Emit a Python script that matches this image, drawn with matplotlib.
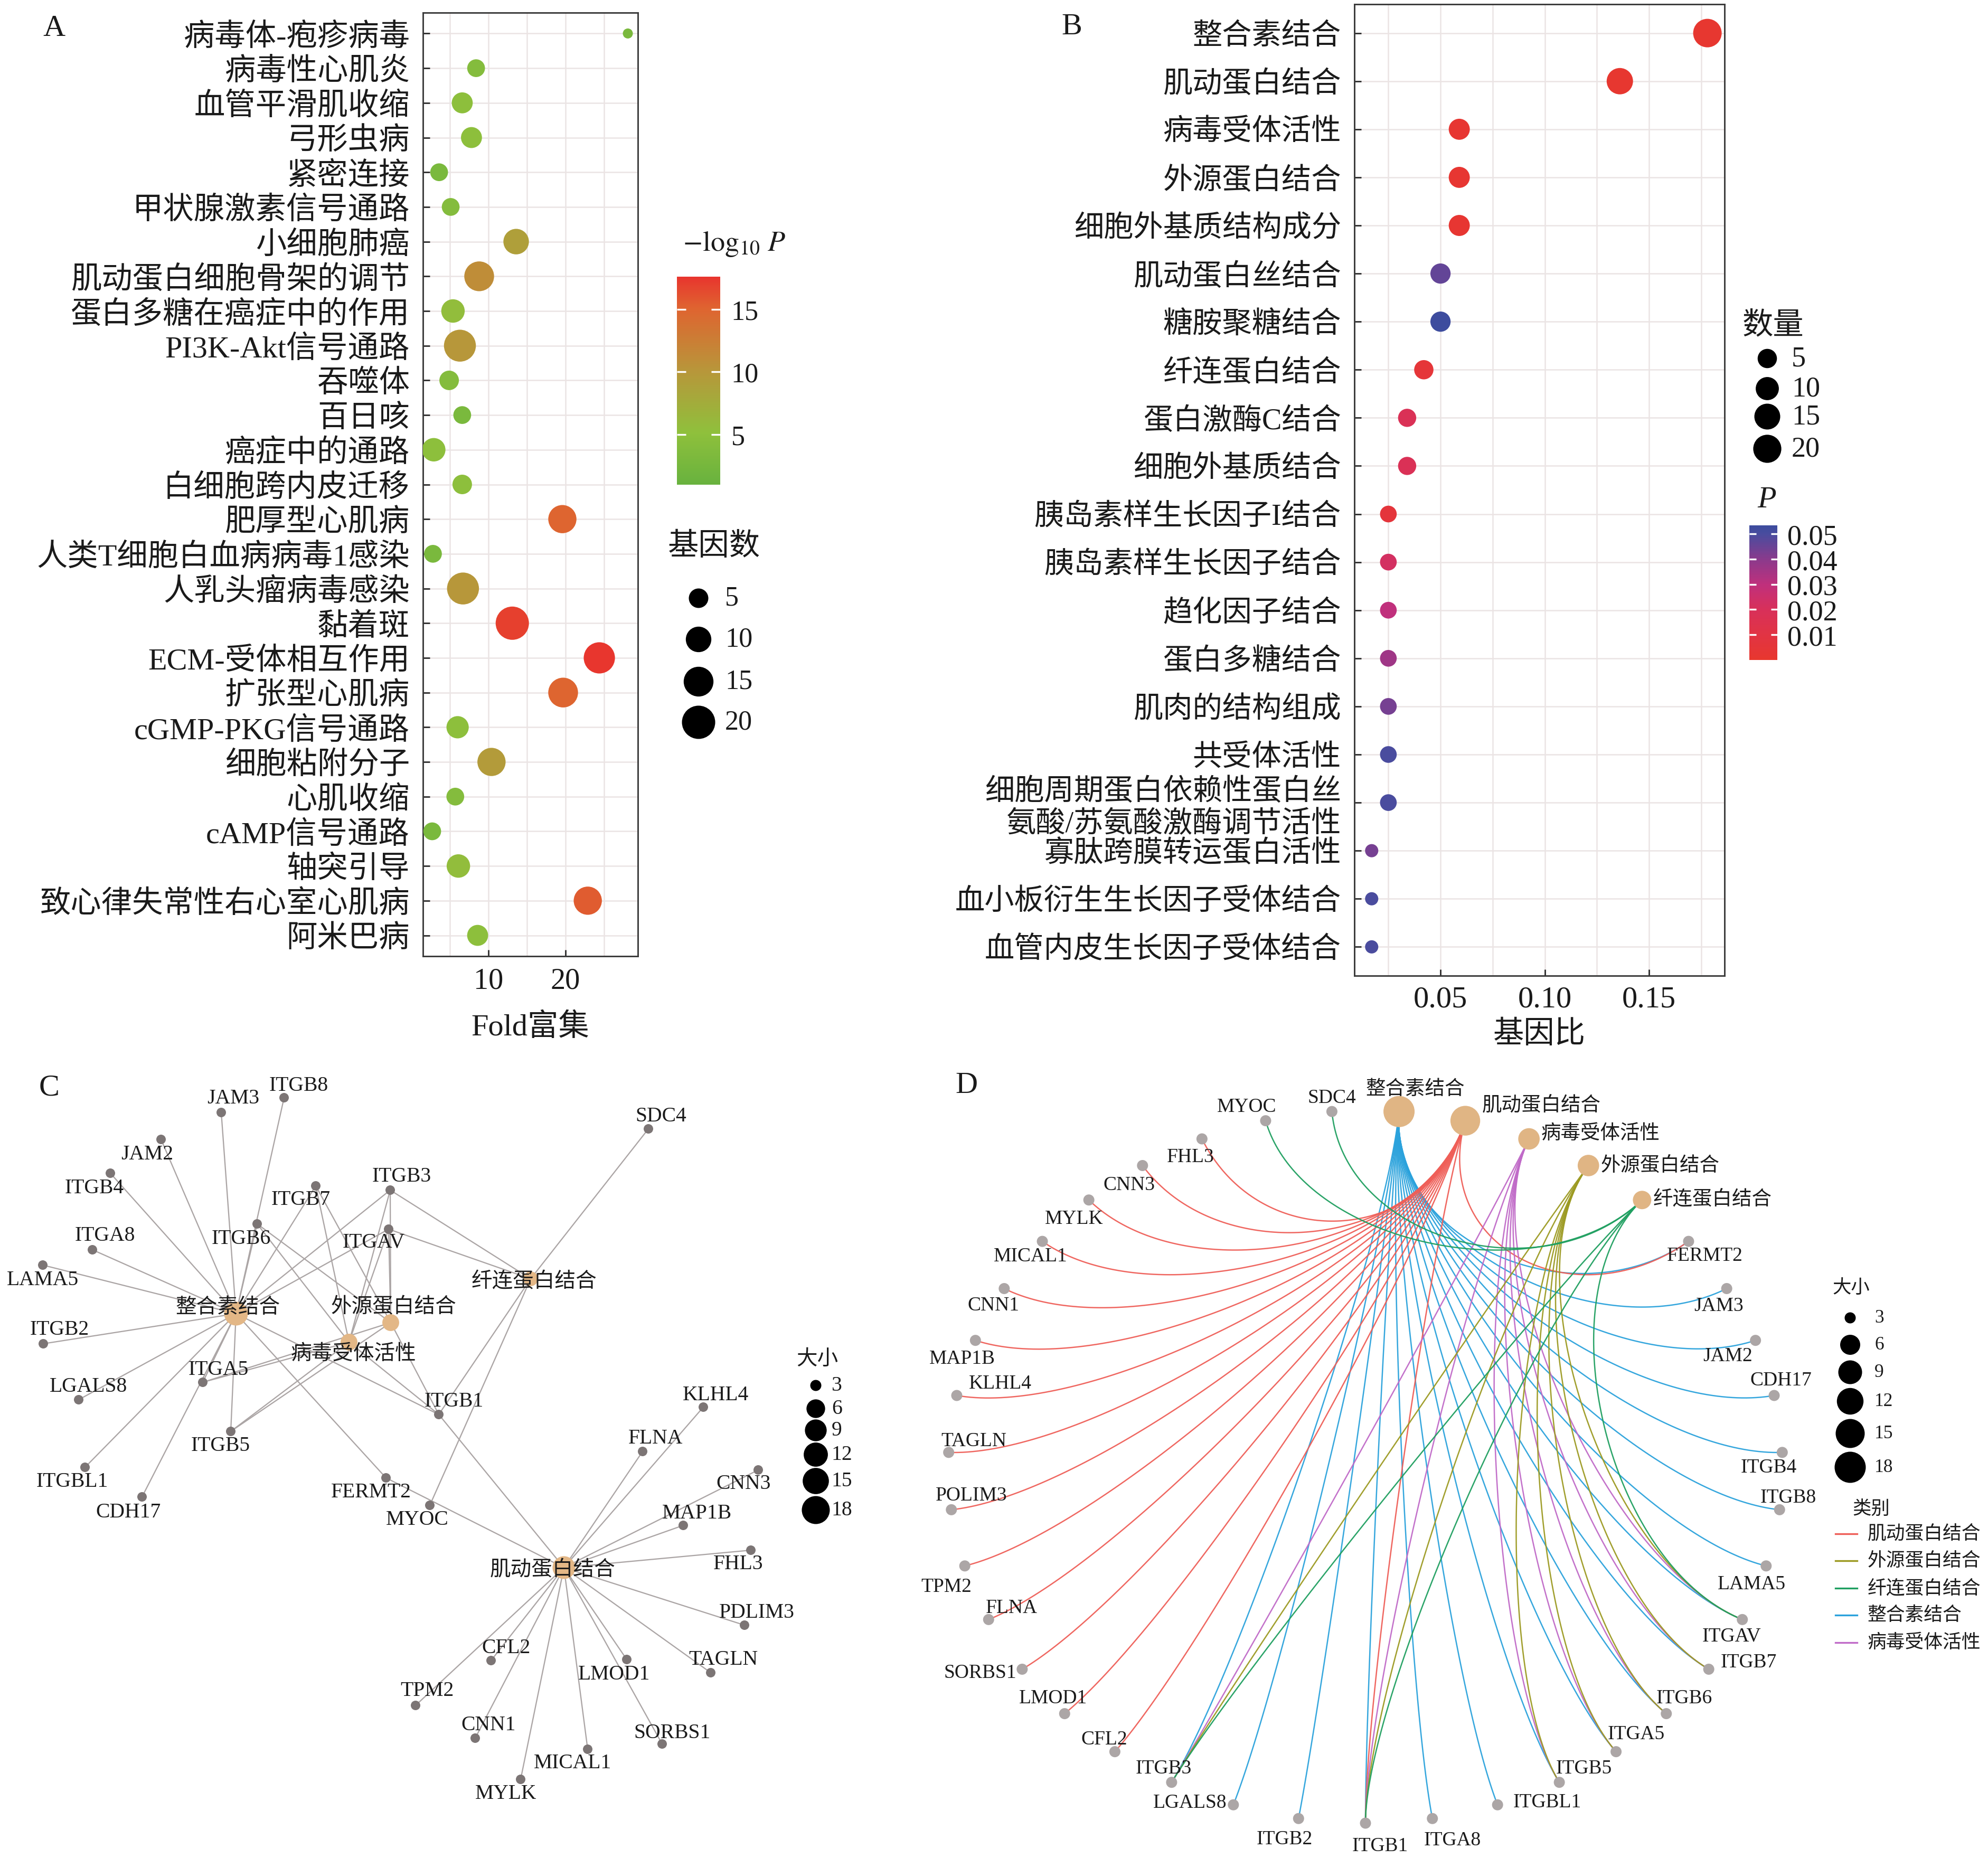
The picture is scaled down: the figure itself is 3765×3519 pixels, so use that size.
import matplotlib
matplotlib.use('Agg')
import matplotlib.pyplot as plt
import numpy as np
from matplotlib.colors import LinearSegmentedColormap, Normalize

plt.rcParams['font.family'] = ['Liberation Serif', 'Noto Sans CJK SC']
plt.rcParams['mathtext.fontset'] = 'stix'

W, H = 3765, 3520
DPI = 300
PT = DPI / 72.0   # pixels per point
INK = '#1a1a1a'

# ---------------- A: KEGG ----------------
kegg_terms = ['病毒体-疱疹病毒', '病毒性心肌炎', '血管平滑肌收缩', '弓形虫病', '紧密连接',
              '甲状腺激素信号通路', '小细胞肺癌', '肌动蛋白细胞骨架的调节', '蛋白多糖在癌症中的作用',
              'PI3K-Akt信号通路', '吞噬体', '百日咳', '癌症中的通路', '白细胞跨内皮迁移',
              '肥厚型心肌病', '人类T细胞白血病病毒1感染', '人乳头瘤病毒感染', '黏着斑',
              'ECM-受体相互作用', '扩张型心肌病', 'cGMP-PKG信号通路', '细胞粘附分子', '心肌收缩',
              'cAMP信号通路', '轴突引导', '致心律失常性右心室心肌病', '阿米巴病']
kegg_fold = [28.1, 8.4, 6.6, 7.8, 3.6, 5.1, 13.6, 8.8, 5.4, 6.3, 4.9, 6.6, 2.9, 6.6,
             19.6, 2.8, 6.7, 13.1, 24.4, 19.7, 6.0, 10.4, 5.7, 2.7, 6.1, 22.9, 8.6]
kegg_count = [2, 4, 6, 6, 4, 4, 10, 15, 8, 18, 5, 4, 8, 5,
              13, 4, 18, 20, 17, 15, 7, 13, 4, 4, 8, 13, 6]
kegg_logp = [3, 4, 5, 5, 3, 4, 9, 11, 5.5, 10, 4, 3, 5, 5,
             15, 3, 10, 17, 17.5, 15, 5, 9.5, 4, 3, 5.5, 15.5, 5]

# ---------------- B: GO ----------------
go_terms = ['整合素结合', '肌动蛋白结合', '病毒受体活性', '外源蛋白结合', '细胞外基质结构成分',
            '肌动蛋白丝结合', '糖胺聚糖结合', '纤连蛋白结合', '蛋白激酶C结合', '细胞外基质结合',
            '胰岛素样生长因子I结合', '胰岛素样生长因子结合', '趋化因子结合', '蛋白多糖结合',
            '肌肉的结构组成', '共受体活性', '细胞周期蛋白依赖性蛋白丝\n氨酸/苏氨酸激酶调节活性',
            '寡肽跨膜转运蛋白活性', '血小板衍生生长因子受体结合', '血管内皮生长因子受体结合']
go_ratio = [0.178, 0.136, 0.059, 0.059, 0.059, 0.050, 0.050, 0.042, 0.034, 0.034,
            0.025, 0.025, 0.025, 0.025, 0.025, 0.025, 0.025, 0.017, 0.017, 0.017]
go_count = [21, 16, 7, 7, 7, 6, 6, 5, 4, 4, 3, 3, 3, 3, 3, 3, 3, 2, 2, 2]
go_p = [0.001, 0.001, 0.002, 0.002, 0.002, 0.046, 0.053, 0.005, 0.018, 0.018,
        0.006, 0.022, 0.030, 0.036, 0.043, 0.050, 0.050, 0.043, 0.050, 0.050]

# ---------------- C/D: gene-concept network ----------------
hub_terms = ['整合素结合', '肌动蛋白结合', '病毒受体活性', '外源蛋白结合', '纤连蛋白结合']
hub_genes = {
    '整合素结合': ['FERMT2', 'JAM3', 'JAM2', 'CDH17', 'ITGB4', 'ITGB8', 'LAMA5', 'ITGAV', 'ITGB7',
                  'ITGB6', 'ITGA5', 'ITGB5', 'ITGBL1', 'ITGA8', 'ITGB1', 'ITGB2', 'LGALS8', 'ITGB3'],
    '肌动蛋白结合': ['FHL3', 'CNN3', 'MYLK', 'MICAL1', 'CNN1', 'MAP1B', 'KLHL4', 'TAGLN', 'PDLIM3',
                    'TPM2', 'FLNA', 'SORBS1', 'LMOD1', 'CFL2', 'FERMT2', 'ITGB1'],
    '病毒受体活性': ['ITGAV', 'ITGB7', 'ITGB6', 'ITGA5', 'ITGB5', 'ITGB1', 'ITGB3'],
    '外源蛋白结合': ['ITGAV', 'ITGB7', 'ITGB6', 'ITGA5', 'ITGB5', 'ITGB1', 'ITGB3'],
    '纤连蛋白结合': ['MYOC', 'SDC4', 'ITGAV', 'ITGB3', 'ITGB1'],
}
legend_order = ['肌动蛋白结合', '外源蛋白结合', '纤连蛋白结合', '整合素结合', '病毒受体活性']
cat_colors = {'肌动蛋白结合': '#ef5f58', '外源蛋白结合': '#9c9a22', '纤连蛋白结合': '#1f9f60',
              '整合素结合': '#2ba2dc', '病毒受体活性': '#c06ac8'}
d_names = {'PDLIM3': 'POLIM3'}

# layout of panel C (pixel positions as in the force layout)
c_pos = {
    '整合素结合': (447, 2489), '外源蛋白结合': (740, 2506), '病毒受体活性': (661, 2543),
    '纤连蛋白结合': (1005, 2423), '肌动蛋白结合': (1068, 2970),
    'JAM3': (419, 2108), 'ITGB8': (538, 2080), 'JAM2': (305, 2159), 'ITGB4': (209, 2223),
    'ITGB7': (598, 2247), 'ITGB3': (739, 2255), 'ITGB6': (487, 2319), 'ITGAV': (736, 2329),
    'ITGA8': (175, 2368), 'LAMA5': (81, 2397), 'ITGB2': (82, 2546), 'ITGA5': (384, 2619),
    'LGALS8': (149, 2652), 'ITGB5': (437, 2712), 'ITGB1': (831, 2680), 'ITGBL1': (161, 2780),
    'CDH17': (269, 2836), 'FERMT2': (731, 2800), 'MYOC': (814, 2852), 'SDC4': (1228, 2139),
    'KLHL4': (1332, 2666), 'FLNA': (1217, 2750), 'CNN3': (1436, 2785), 'MAP1B': (1294, 2890),
    'FHL3': (1422, 2937), 'PDLIM3': (1410, 3079), 'TAGLN': (1346, 3169), 'LMOD1': (1187, 3144),
    'SORBS1': (1254, 3304), 'MICAL1': (1113, 3314), 'MYLK': (986, 3371), 'CNN1': (900, 3293),
    'TPM2': (787, 3231), 'CFL2': (930, 3146),
}
c_label_off = {
    'JAM3': (23, -27), 'ITGB8': (28, -24), 'JAM2': (-26, 28), 'ITGB4': (-30, 27), 'ITGB7': (-28, 25),
    'ITGB3': (22, -27), 'ITGB6': (-30, 27), 'ITGAV': (-28, 25), 'ITGA8': (24, -27), 'LAMA5': (0, 28),
    'ITGB2': (31, -27), 'ITGA5': (30, -25), 'LGALS8': (19, -26), 'ITGB5': (-19, 27), 'ITGB1': (29, -25),
    'ITGBL1': (-24, 26), 'CDH17': (-26, 28), 'FERMT2': (-28, 26), 'MYOC': (-24, 27), 'SDC4': (24, -25),
    'KLHL4': (24, -24), 'FLNA': (25, -25), 'CNN3': (-28, 25), 'MAP1B': (26, -23), 'FHL3': (-24, 25),
    'PDLIM3': (23, -24), 'TAGLN': (24, -25), 'LMOD1': (-24, 28), 'SORBS1': (19, -21), 'MICAL1': (-28, 26),
    'MYLK': (-28, 27), 'CNN1': (25, -25), 'TPM2': (22, -28), 'CFL2': (29, -24),
    '整合素结合': (-15, -12), '外源蛋白结合': (5, -29), '病毒受体活性': (9, 22),
    '纤连蛋白结合': (7, 6), '肌动蛋白结合': (-21, 5),
}
# circular order of panel D
d_order = ['整合素结合', '肌动蛋白结合', '病毒受体活性', '外源蛋白结合', '纤连蛋白结合',
           'FERMT2', 'JAM3', 'JAM2', 'CDH17', 'ITGB4', 'ITGB8', 'LAMA5', 'ITGAV', 'ITGB7',
           'ITGB6', 'ITGA5', 'ITGB5', 'ITGBL1', 'ITGA8', 'ITGB1', 'ITGB2', 'LGALS8', 'ITGB3',
           'CFL2', 'LMOD1', 'SORBS1', 'FLNA', 'TPM2', 'PDLIM3', 'TAGLN', 'KLHL4', 'MAP1B',
           'CNN1', 'MICAL1', 'MYLK', 'CNN3', 'FHL3', 'MYOC', 'SDC4']
d_label_off = {
    'MYOC': (-36, -27), 'SDC4': (0, -26), 'FHL3': (-22, 34), 'CNN3': (-25, 36), 'MYLK': (-28, 35),
    'MICAL1': (-22, 28), 'CNN1': (-20, 31), 'MAP1B': (-25, 34), 'KLHL4': (82, -23), 'TAGLN': (48, -22),
    'PDLIM3': (38, -28), 'TPM2': (-35, 39), 'FLNA': (44, -23), 'SORBS1': (-80, 6), 'LMOD1': (-22, -30),
    'CFL2': (-20, -24), 'ITGB3': (-15, -27), 'LGALS8': (-82, -5), 'ITGB2': (-27, 38), 'ITGB1': (28, 43),
    'ITGA8': (38, 40), 'ITGBL1': (94, -6), 'ITGB5': (47, -27), 'ITGA5': (38, -34), 'ITGB6': (34, -30),
    'ITGB7': (76, -14), 'ITGAV': (-20, 31), 'LAMA5': (-27, 34), 'ITGB8': (16, -24), 'ITGB4': (-26, 28),
    'CDH17': (13, -29), 'JAM2': (-53, 29), 'JAM3': (-15, 32), 'FERMT2': (31, 27),
}
d_hub_label_dy = {'肌动蛋白结合': -30, '病毒受体活性': -10, '外源蛋白结合': 0, '纤连蛋白结合': -2}
size_breaks = [3, 6, 9, 12, 15, 18]


def px_rect(x0, y0, x1, y1):
    return [x0 / W, 1 - y1 / H, (x1 - x0) / W, (y1 - y0) / H]


def pixel_axes(fig, x0, y0, x1, y1):
    ax = fig.add_axes(px_rect(x0, y0, x1, y1))
    ax.set_xlim(x0, x1)
    ax.set_ylim(y1, y0)
    ax.axis('off')
    return ax


def s_of(d_px):
    return (np.asarray(d_px, dtype=float) / PT) ** 2


def size_a(v):
    return 19 + 44 * np.sqrt((np.asarray(v, float) - 2) / 18.0)


def size_b(v):
    return 25 + 29 * np.sqrt((np.asarray(v, float) - 2) / 19.0)


def size_c(v):
    return 21 + 32 * np.sqrt((np.asarray(v, float) - 3) / 15.0)


def size_d(v):
    return 21 + 38 * np.sqrt((np.asarray(v, float) - 3) / 15.0)


def style_dot_axes(ax):
    ax.set_facecolor('white')
    ax.grid(True, which='major', color='#ebe4e4', lw=0.6, zorder=0)
    ax.grid(True, which='minor', axis='x', color='#ebe4e4', lw=0.6, zorder=0)
    ax.set_axisbelow(True)
    for sp in ax.spines.values():
        sp.set_color('#3a3a3a')
        sp.set_linewidth(0.7)
    ax.tick_params(which='major', direction='in', length=3, width=0.7, color='#333333',
                   labelcolor=INK)
    ax.tick_params(which='minor', length=0)
    ax.tick_params(axis='y', pad=6)


fig = plt.figure(figsize=(W / DPI, H / DPI), dpi=DPI)

# ---------------- panel A ----------------
cmap_a = LinearSegmentedColormap.from_list(
    'kegg', [(0, '#68b23e'), (0.25, '#8fc03c'), (0.55, '#b8963a'), (0.85, '#df6430'), (1, '#e8352e')])
norm_a = Normalize(1.0, 17.6)
ax_a = fig.add_axes(px_rect(801, 25, 1208, 1812))
ya = np.arange(len(kegg_terms))
sc_a = ax_a.scatter(kegg_fold, ya, s=s_of(size_a(kegg_count)), c=kegg_logp, cmap=cmap_a,
                    norm=norm_a, edgecolors='none', zorder=3)
ax_a.set_xlim(1.5, 29.4)
ax_a.set_ylim(len(kegg_terms) - 0.4, -0.6)
ax_a.set_yticks(ya)
ax_a.set_yticklabels(kegg_terms, fontsize=14)
ax_a.set_xticks([10, 20])
ax_a.set_xticks([5, 15, 25], minor=True)
ax_a.tick_params(axis='x', labelsize=13.5, pad=5)
style_dot_axes(ax_a)
ax_a.set_xlabel('Fold富集', fontsize=14, labelpad=8, color=INK)

cax_a = fig.add_axes(px_rect(1282, 525, 1364, 919))
cb_a = fig.colorbar(sc_a, cax=cax_a, ticks=[5, 10, 15])
cb_a.outline.set_visible(False)
cb_a.ax.tick_params(direction='in', length=4, width=0.8, color='white', left=True, right=True,
                    labelsize=12.5, labelcolor=INK, pad=5)

# ---------------- panel B ----------------
cmap_b = LinearSegmentedColormap.from_list(
    'go', [(0, '#e8372e'), (0.187, '#e13444'), (0.375, '#d8305a'), (0.56, '#c0307c'),
           (0.75, '#8a3a8c'), (0.936, '#4a4c9e'), (1, '#3c4c9e')])
norm_b = Normalize(0.0, 0.0534)
ax_b = fig.add_axes(px_rect(2565, 9, 3266, 1849))
yb = np.arange(len(go_terms))
sc_b = ax_b.scatter(go_ratio, yb, s=s_of(size_b(go_count)), c=go_p, cmap=cmap_b, norm=norm_b,
                    edgecolors='none', zorder=3)
ax_b.set_xlim(0.0087, 0.1862)
ax_b.set_ylim(len(go_terms) - 0.4, -0.6)
ax_b.set_yticks(yb)
ax_b.set_yticklabels(go_terms, fontsize=13.5)
ax_b.set_xticks([0.05, 0.10, 0.15])
ax_b.set_xticklabels(['0.05', '0.10', '0.15'])
ax_b.set_xticks([0.025, 0.075, 0.125, 0.175], minor=True)
ax_b.tick_params(axis='x', labelsize=14, pad=4.5)
style_dot_axes(ax_b)
ax_b.set_xlabel('基因比', fontsize=14, labelpad=3, color=INK)

cax_b = fig.add_axes(px_rect(3313, 996, 3366, 1251))
cb_b = fig.colorbar(sc_b, cax=cax_b, ticks=[0.01, 0.02, 0.03, 0.04, 0.05])
cb_b.ax.set_yticklabels(['0.01', '0.02', '0.03', '0.04', '0.05'])
cb_b.outline.set_visible(False)
cb_b.ax.tick_params(direction='in', length=3, width=0.8, color='white', left=True, right=True,
                    labelsize=13, labelcolor=INK, pad=4.5)

# ---------------- panel C ----------------
ax_c = pixel_axes(fig, 0, 1990, 1700, 3520)
for hub in hub_terms:
    hx, hy = c_pos[hub]
    for g in hub_genes[hub]:
        gx, gy = c_pos[g]
        ax_c.plot([hx, gx], [hy, gy], color='#aba5a5', lw=0.55, zorder=1,
                  solid_capstyle='round')
genes = [n for n in c_pos if n not in hub_genes]
ax_c.scatter([c_pos[g][0] for g in genes], [c_pos[g][1] for g in genes], s=s_of(18),
             color='#7c7575', edgecolors='none', zorder=2)
hub_n = [len(hub_genes[h]) for h in hub_terms]
ax_c.scatter([c_pos[h][0] for h in hub_terms], [c_pos[h][1] for h in hub_terms],
             s=s_of(0.85 * size_c(hub_n)), color='#e3b786', edgecolors='none', zorder=2)
for name, (x, y) in c_pos.items():
    dx, dy = c_label_off[name]
    ax_c.text(x + dx, y + dy, name, fontsize=9.5, ha='center', va='center', color=INK, zorder=4)

# ---------------- panel D ----------------
ax_d = pixel_axes(fig, 1700, 1990, 3765, 3520)
cx, cy, rx, ry = 2586, 2779, 790, 675
n_nodes = len(d_order)
theta = np.deg2rad(90 - 180.0 / n_nodes - np.arange(n_nodes) * 360.0 / n_nodes)
d_pos = {name: (cx + rx * np.cos(t), cy - ry * np.sin(t)) for name, t in zip(d_order, theta)}

# cubic bezier arcs whose end tangents point at the circle centre
centre = np.array([cx, cy])
tt = np.linspace(0, 1, 100)[:, None]
k = 0.36
for hub in hub_terms:
    p0 = np.array(d_pos[hub])
    for g in hub_genes[hub]:
        p3 = np.array(d_pos[g])
        p1 = p0 + k * (centre - p0)
        p2 = p3 + k * (centre - p3)
        curve = ((1 - tt) ** 3 * p0 + 3 * (1 - tt) ** 2 * tt * p1
                 + 3 * (1 - tt) * tt ** 2 * p2 + tt ** 3 * p3)
        ax_d.plot(curve[:, 0], curve[:, 1], color=cat_colors[hub], lw=0.6, alpha=0.95, zorder=1)

d_genes = [n for n in d_order if n not in hub_genes]
ax_d.scatter([d_pos[g][0] for g in d_genes], [d_pos[g][1] for g in d_genes], s=s_of(21),
             color='#aca6a6', edgecolors='none', zorder=2)
hub_d = size_d(hub_n)
ax_d.scatter([d_pos[h][0] for h in hub_terms], [d_pos[h][1] for h in hub_terms],
             s=s_of(hub_d), color='#e0b584', edgecolors='none', zorder=2)
for g in d_genes:
    x, y = d_pos[g]
    dx, dy = d_label_off[g]
    ax_d.text(x + dx, y + dy, d_names.get(g, g), fontsize=9, ha='center', va='center',
              color=INK, zorder=4)
for h, dh in zip(hub_terms, hub_d):
    x, y = d_pos[h]
    if h == '整合素结合':
        ax_d.text(x + 31, y - 42, h, fontsize=9, ha='center', va='center', color=INK, zorder=4)
    else:
        ax_d.text(x + dh / 2 + 3, y + d_hub_label_dy[h], h, fontsize=9, ha='left', va='center',
                  color=INK, zorder=4)

# ---------------- legends, panel letters ----------------
ov = pixel_axes(fig, 0, 0, W, H)

ov.text(1391, 462, r'$-\mathrm{log}_{10}\ \mathit{P}$', fontsize=13, ha='center', va='center',
        color=INK)
ov.text(1265, 1036, '基因数', fontsize=14, ha='left', va='center', color=INK)
for v, y in zip([5, 10, 15, 20], [1134, 1212, 1292, 1369]):
    ov.scatter([1323], [y], s=s_of(size_a(v)), color='black', edgecolors='none')
    ov.text(1373, y, str(v), fontsize=12.5, ha='left', va='center', color=INK)

ov.text(3300, 617, '数量', fontsize=14, ha='left', va='center', color=INK)
for v, y in zip([5, 10, 15, 20], [680, 737, 790, 851]):
    ov.scatter([3347], [y], s=s_of(size_b(v)), color='black', edgecolors='none')
    ov.text(3393, y, str(v), fontsize=13, ha='left', va='center', color=INK)
ov.text(3328, 947, 'P', fontsize=14, fontstyle='italic', ha='left', va='center', color=INK)

ov.text(1508, 2575, '大小', fontsize=9.5, ha='left', va='center', color=INK)
for v, y in zip(size_breaks, [2625, 2669, 2710, 2756, 2806, 2861]):
    ov.scatter([1545], [y], s=s_of(size_c(v)), color='black', edgecolors='none')
    ov.text(1575, y, str(v), fontsize=9.5, ha='left', va='center', color=INK)

ov.text(3470, 2441, '大小', fontsize=8.5, ha='left', va='center', color=INK)
for v, y in zip(size_breaks, [2497, 2548, 2600, 2655, 2716, 2780]):
    ov.scatter([3504], [y], s=s_of(size_d(v)), color='black', edgecolors='none')
    ov.text(3550, y, str(v), fontsize=8.5, ha='left', va='center', color=INK)
ov.text(3508, 2859, '类别', fontsize=8.5, ha='left', va='center', color=INK)
for cat, y in zip(legend_order, [2906, 2957, 3009, 3060, 3112]):
    ov.plot([3476, 3517], [y, y], color=cat_colors[cat], lw=0.8)
    ov.text(3537, y, cat, fontsize=8.6, ha='left', va='center', color=INK)

for letter, (x, y) in zip('ABCD', [(102, 54), (2030, 51), (93, 2061), (1830, 2056)]):
    ov.text(x, y, letter, fontsize=14, ha='center', va='center', color=INK)

fig.savefig('out.png', dpi=DPI, facecolor='white')
